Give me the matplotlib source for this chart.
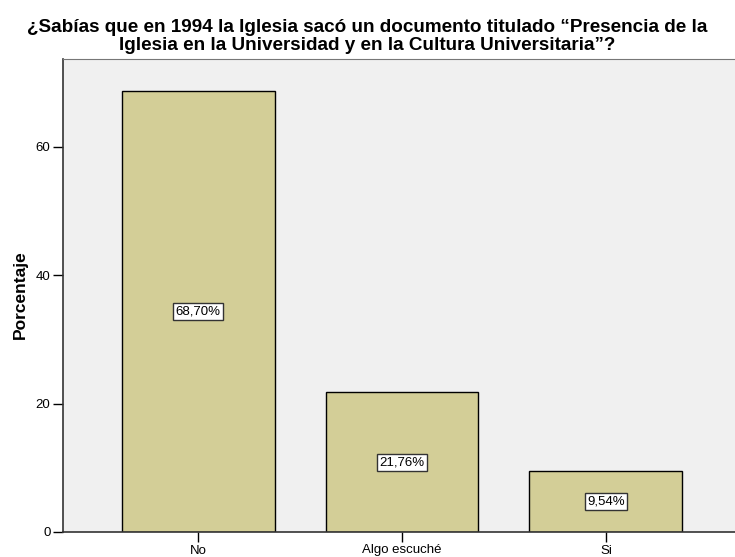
import matplotlib.pyplot as plt
import numpy as np

plt.rcParams['font.family'] = ['Liberation Sans', 'DejaVu Sans']

categories = ['No', 'Algo escuché', 'Si']
values = [68.70, 21.76, 9.54]
labels = ['68,70%', '21,76%', '9,54%']

fig = plt.figure(figsize=(7.35, 5.57), dpi=100)
ax = fig.add_axes([63/735, 25/557, (741-63)/735, (532-59)/557])
ax.set_facecolor('#F0F0F0')

x = np.arange(len(categories))
ax.bar(x, values, width=0.75, color='#D3CE97', edgecolor='black', linewidth=1, zorder=2)
for xi, v, lab in zip(x, values, labels):
    ax.text(xi, v/2, lab, ha='center', va='center', fontsize=9.5,
            bbox=dict(boxstyle='square,pad=0.2', fc='white', ec='#333333', lw=1), zorder=3)

ax.set_xlim(-0.662, 2.662)
ax.set_ylim(0, 73.7)
ax.set_yticks([0, 20, 40, 60])
ax.set_xticks(x)
ax.set_xticklabels(categories)
ax.tick_params(axis='both', labelsize=9.5, length=7, width=1, direction='out', colors='black', pad=2)
for s in ['left', 'bottom']:
    ax.spines[s].set_color('#333333')
    ax.spines[s].set_linewidth(1.2)
for s in ['top', 'right']:
    ax.spines[s].set_color('#777777')

fig.text(20/735, 1 - 295/557, 'Porcentaje', rotation=90, ha='center', va='center',
         fontsize=12.5, fontweight='bold')

fig.text(0.5, 1 - 50/557, '¿Sabías que en 1994 la Iglesia sacó un documento titulado “Presencia de la\nIglesia en la Universidad y en la Cultura Universitaria”?',
         ha='center', va='baseline', fontsize=13.6, fontweight='bold', linespacing=1.05)

fig.savefig('out.png', dpi=100)
